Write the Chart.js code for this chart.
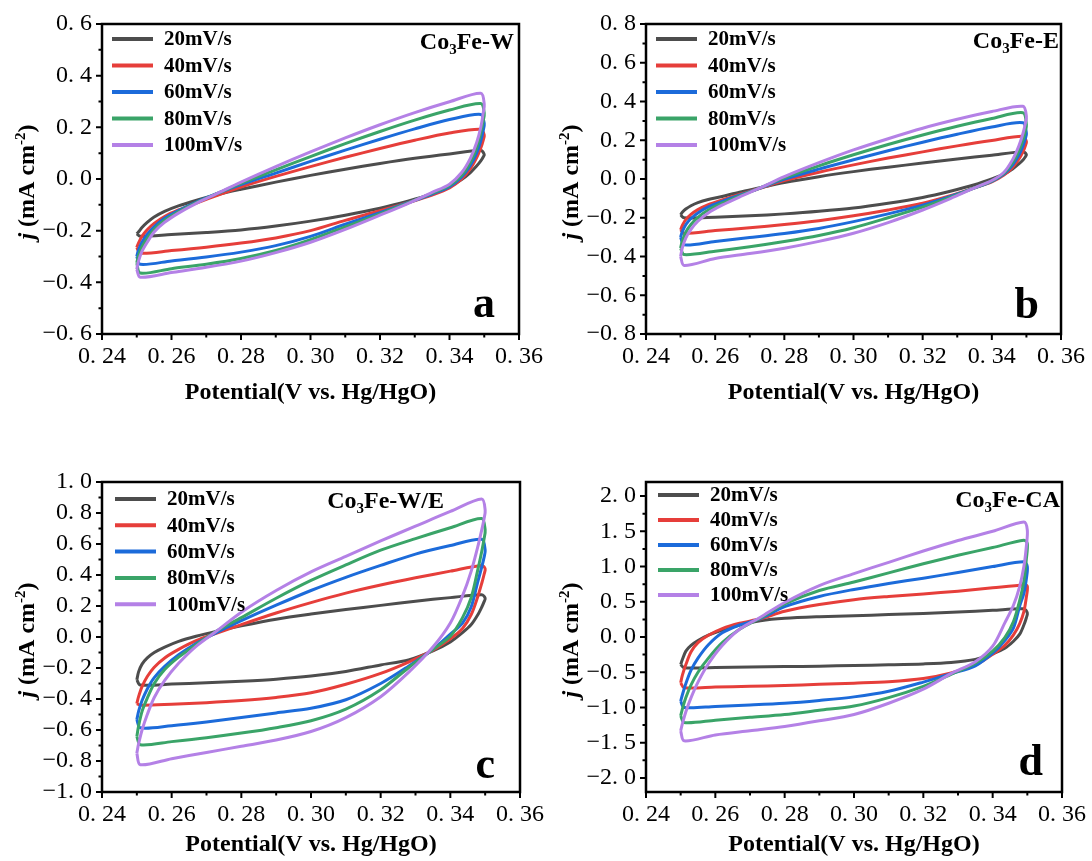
<!DOCTYPE html>
<html>
<head>
<meta charset="utf-8">
<script src="https://cdn.jsdelivr.net/npm/chart.js@4.4.0/dist/chart.umd.min.js"></script>
<style>
  body { margin: 0; background: #fff; width: 1092px; height: 861px; position: relative; overflow: hidden; }
  .panel { position: absolute; }
</style>
</head>
<body>
<div class="panel" style="left:0;top:0"><canvas id="chartA" width="546" height="430"></canvas></div>
<div class="panel" style="left:546px;top:0"><canvas id="chartB" width="546" height="430"></canvas></div>
<div class="panel" style="left:0;top:430px"><canvas id="chartC" width="546" height="431"></canvas></div>
<div class="panel" style="left:546px;top:430px"><canvas id="chartD" width="546" height="431"></canvas></div>
<script>
// scan rates (legend) and potentials of the forward / reverse sweeps (V vs. Hg/HgO)
const scanRates = ['20mV/s', '40mV/s', '60mV/s', '80mV/s', '100mV/s'];
const forwardPotential = [0.2500, 0.2505, 0.2515, 0.2530, 0.2550, 0.2580, 0.2620, 0.2670, 0.2730, 0.2800, 0.2900, 0.3000, 0.3100, 0.3200, 0.3300, 0.3400, 0.3490];
const reversePotential = [0.3500, 0.3497, 0.3490, 0.3478, 0.3460, 0.3435, 0.3400, 0.3350, 0.3280, 0.3200, 0.3100, 0.3000, 0.2900, 0.2800, 0.2700, 0.2600, 0.2510];

const xTicks = [0.24, 0.26, 0.28, 0.30, 0.32, 0.34, 0.36];
const wTicksY = [-0.6, -0.4, -0.2, 0, 0.2, 0.4, 0.6];
const eTicksY = [-0.8, -0.6, -0.4, -0.2, 0, 0.2, 0.4, 0.6, 0.8];
const weTicksY = [-1.0, -0.8, -0.6, -0.4, -0.2, 0, 0.2, 0.4, 0.6, 0.8, 1.0];
const caTicksY = [-2.0, -1.5, -1.0, -0.5, 0, 0.5, 1.0, 1.5, 2.0];

const sampleNames = ['Co3Fe-W', 'Co3Fe-E', 'Co3Fe-W/E', 'Co3Fe-CA'];
const panelLetters = ['a', 'b', 'c', 'd'];

// current density j (mA cm-2), one row per scan rate
const wForward = [
  [-0.212, -0.205, -0.188, -0.168, -0.147, -0.125, -0.104, -0.083, -0.061, -0.040, -0.012, 0.014, 0.038, 0.060, 0.080, 0.097, 0.110],
  [-0.265, -0.248, -0.222, -0.197, -0.172, -0.145, -0.120, -0.094, -0.064, -0.031, 0.010, 0.048, 0.084, 0.118, 0.150, 0.178, 0.192],
  [-0.300, -0.275, -0.245, -0.215, -0.185, -0.152, -0.122, -0.090, -0.057, -0.022, 0.023, 0.068, 0.112, 0.154, 0.194, 0.230, 0.250],
  [-0.325, -0.297, -0.262, -0.230, -0.195, -0.160, -0.127, -0.092, -0.057, -0.017, 0.035, 0.087, 0.137, 0.184, 0.228, 0.267, 0.292],
  [-0.350, -0.318, -0.280, -0.245, -0.205, -0.168, -0.132, -0.095, -0.057, -0.012, 0.048, 0.105, 0.159, 0.210, 0.257, 0.299, 0.332]
];
const wReverse = [
  [0.095, 0.085, 0.070, 0.050, 0.025, -0.002, -0.030, -0.058, -0.086, -0.113, -0.140, -0.163, -0.182, -0.197, -0.207, -0.215, -0.222],
  [0.170, 0.150, 0.120, 0.082, 0.040, 0.000, -0.035, -0.062, -0.092, -0.123, -0.160, -0.200, -0.228, -0.248, -0.264, -0.277, -0.287],
  [0.215, 0.188, 0.148, 0.100, 0.052, 0.008, -0.030, -0.058, -0.092, -0.130, -0.175, -0.222, -0.258, -0.283, -0.302, -0.317, -0.330],
  [0.255, 0.225, 0.178, 0.120, 0.065, 0.015, -0.025, -0.055, -0.093, -0.135, -0.185, -0.235, -0.277, -0.308, -0.330, -0.347, -0.364],
  [0.290, 0.255, 0.200, 0.140, 0.080, 0.025, -0.020, -0.052, -0.095, -0.140, -0.195, -0.245, -0.285, -0.318, -0.342, -0.362, -0.380]
];

const eForward = [
  [-0.185, -0.172, -0.155, -0.138, -0.122, -0.106, -0.090, -0.068, -0.045, -0.018, 0.012, 0.038, 0.061, 0.082, 0.103, 0.123, 0.140],
  [-0.262, -0.240, -0.210, -0.183, -0.158, -0.132, -0.108, -0.080, -0.048, -0.008, 0.035, 0.073, 0.108, 0.140, 0.171, 0.199, 0.220],
  [-0.300, -0.272, -0.236, -0.204, -0.175, -0.144, -0.116, -0.084, -0.047, -0.001, 0.051, 0.099, 0.146, 0.190, 0.231, 0.268, 0.290],
  [-0.357, -0.320, -0.275, -0.235, -0.198, -0.160, -0.125, -0.088, -0.046, 0.006, 0.068, 0.125, 0.178, 0.227, 0.272, 0.312, 0.342],
  [-0.400, -0.355, -0.305, -0.260, -0.218, -0.175, -0.135, -0.093, -0.046, 0.012, 0.084, 0.150, 0.208, 0.262, 0.308, 0.348, 0.375]
];
const eReverse = [
  [0.125, 0.115, 0.098, 0.078, 0.052, 0.025, 0.000, -0.030, -0.063, -0.095, -0.125, -0.150, -0.167, -0.180, -0.190, -0.197, -0.200],
  [0.193, 0.172, 0.140, 0.102, 0.060, 0.020, -0.015, -0.046, -0.086, -0.125, -0.160, -0.190, -0.215, -0.235, -0.252, -0.266, -0.280],
  [0.236, 0.210, 0.170, 0.122, 0.072, 0.025, -0.012, -0.046, -0.090, -0.135, -0.180, -0.220, -0.255, -0.281, -0.302, -0.322, -0.340],
  [0.280, 0.250, 0.202, 0.145, 0.085, 0.030, -0.010, -0.046, -0.095, -0.145, -0.200, -0.252, -0.292, -0.323, -0.350, -0.373, -0.390],
  [0.322, 0.288, 0.235, 0.170, 0.100, 0.035, -0.008, -0.046, -0.101, -0.160, -0.225, -0.280, -0.322, -0.357, -0.385, -0.410, -0.446]
];

const weForward = [
  [-0.277, -0.225, -0.175, -0.135, -0.100, -0.065, -0.028, 0.005, 0.038, 0.072, 0.115, 0.148, 0.177, 0.204, 0.231, 0.254, 0.272],
  [-0.430, -0.385, -0.320, -0.255, -0.195, -0.135, -0.080, -0.024, 0.025, 0.080, 0.155, 0.222, 0.283, 0.335, 0.382, 0.425, 0.462],
  [-0.534, -0.480, -0.410, -0.335, -0.262, -0.190, -0.115, -0.042, 0.030, 0.105, 0.205, 0.300, 0.385, 0.462, 0.535, 0.590, 0.630],
  [-0.642, -0.575, -0.480, -0.395, -0.300, -0.210, -0.130, -0.050, 0.040, 0.125, 0.250, 0.365, 0.465, 0.560, 0.635, 0.705, 0.764],
  [-0.750, -0.690, -0.600, -0.500, -0.390, -0.280, -0.170, -0.060, 0.040, 0.160, 0.300, 0.420, 0.520, 0.620, 0.715, 0.810, 0.890]
];
const weReverse = [
  [0.250, 0.228, 0.192, 0.140, 0.080, 0.028, -0.032, -0.090, -0.148, -0.180, -0.222, -0.252, -0.272, -0.285, -0.295, -0.304, -0.310],
  [0.440, 0.405, 0.345, 0.255, 0.145, 0.055, -0.012, -0.085, -0.162, -0.235, -0.305, -0.360, -0.390, -0.410, -0.424, -0.434, -0.440],
  [0.560, 0.515, 0.450, 0.350, 0.195, 0.090, 0.018, -0.080, -0.188, -0.300, -0.405, -0.460, -0.490, -0.520, -0.548, -0.572, -0.586],
  [0.690, 0.635, 0.550, 0.425, 0.255, 0.125, 0.005, -0.080, -0.198, -0.340, -0.465, -0.540, -0.585, -0.620, -0.650, -0.675, -0.695],
  [0.818, 0.765, 0.690, 0.575, 0.425, 0.265, 0.090, -0.065, -0.228, -0.385, -0.520, -0.610, -0.665, -0.705, -0.745, -0.785, -0.824]
];

const caForward = [
  [-0.390, -0.320, -0.200, -0.120, -0.050, 0.025, 0.100, 0.170, 0.230, 0.265, 0.288, 0.303, 0.318, 0.335, 0.355, 0.378, 0.400],
  [-0.650, -0.540, -0.390, -0.210, -0.080, 0.025, 0.120, 0.195, 0.258, 0.365, 0.460, 0.530, 0.575, 0.612, 0.650, 0.698, 0.738],
  [-0.910, -0.820, -0.660, -0.470, -0.300, -0.110, 0.060, 0.170, 0.260, 0.430, 0.575, 0.675, 0.760, 0.835, 0.915, 1.000, 1.067],
  [-1.120, -1.020, -0.860, -0.680, -0.500, -0.300, -0.080, 0.110, 0.270, 0.470, 0.660, 0.780, 0.910, 1.040, 1.160, 1.270, 1.374],
  [-1.333, -1.230, -1.060, -0.860, -0.640, -0.380, -0.120, 0.110, 0.280, 0.490, 0.730, 0.900, 1.060, 1.220, 1.370, 1.500, 1.632]
];
const caReverse = [
  [0.340, 0.270, 0.170, 0.040, -0.060, -0.160, -0.240, -0.318, -0.362, -0.382, -0.395, -0.405, -0.414, -0.420, -0.427, -0.432, -0.438],
  [0.720, 0.560, 0.360, 0.190, 0.030, -0.120, -0.245, -0.400, -0.510, -0.590, -0.635, -0.655, -0.672, -0.688, -0.700, -0.710, -0.720],
  [0.997, 0.820, 0.620, 0.440, 0.130, -0.050, -0.230, -0.410, -0.520, -0.640, -0.770, -0.850, -0.900, -0.940, -0.965, -0.985, -1.000],
  [1.327, 1.100, 0.790, 0.520, 0.220, -0.010, -0.200, -0.370, -0.530, -0.700, -0.860, -0.980, -1.040, -1.100, -1.140, -1.180, -1.214],
  [1.515, 1.280, 1.000, 0.720, 0.450, 0.200, -0.130, -0.350, -0.520, -0.740, -0.940, -1.100, -1.190, -1.270, -1.330, -1.390, -1.474]
];

const lineColors = ['#4d4d4d', '#e63e3a', '#1c6bda', '#3aa468', '#b481e6'];
const serif = '"Liberation Serif", "Times New Roman", serif';

// layout of each panel (pixels inside its own canvas)
const panels = [
  { id: 'chartA', fwd: wForward, rev: wReverse, yMin: -0.6, yMax: 0.6, yTicks: wTicksY,
    yAxisWidth: 102, padRight: 27, padTop: 24, xAxisHeight: 96, titlePad: 23,
    legend: { x: 10, y: 15, gap: 26.5 }, nameRight: 5, nameBase: 25, letterRight: 24, letterBase: 17 },
  { id: 'chartB', fwd: eForward, rev: eReverse, yMin: -0.8, yMax: 0.8, yTicks: eTicksY,
    yAxisWidth: 100, padRight: 31, padTop: 24, xAxisHeight: 96, titlePad: 23,
    legend: { x: 10, y: 15, gap: 26.5 }, nameRight: 2, nameBase: 24, letterRight: 22, letterBase: 16 },
  { id: 'chartC', fwd: weForward, rev: weReverse, yMin: -1.0, yMax: 1.0, yTicks: weTicksY,
    yAxisWidth: 102, padRight: 26, padTop: 52, xAxisHeight: 69, titlePad: 2,
    legend: { x: 13, y: 17, gap: 26.3 }, nameRight: 76, nameBase: 26, letterRight: 25, letterBase: 14 },
  { id: 'chartD', fwd: caForward, rev: caReverse, yMin: -2.2, yMax: 2.2, yTicks: caTicksY,
    yAxisWidth: 100, padRight: 30, padTop: 52, xAxisHeight: 69, titlePad: 2,
    legend: { x: 12, y: 13, gap: 25 }, nameRight: 2, nameBase: 25, letterRight: 19, letterBase: 17 }
];

function fmtTick(value, digits) {
  const s = Math.abs(value).toFixed(digits).replace('.', '. ');
  return (value < -1e-9 ? '\u2212' : '') + s;
}

function buildLoop(fwd, rev) {
  const pts = forwardPotential.map((v, i) => ({ x: v, y: fwd[i] }));
  reversePotential.forEach((v, i) => pts.push({ x: v, y: rev[i] }));
  pts.push({ x: forwardPotential[0], y: fwd[0] });
  return pts;
}

function midpoints(arr) {
  const out = [];
  for (let i = 0; i < arr.length - 1; i++) out.push((arr[i] + arr[i + 1]) / 2);
  return out;
}

function drawYTitle(ctx, cx, cy) {
  const parts = [
    { t: 'j', f: 'italic bold 24px ' + serif, dy: 0 },
    { t: ' (mA cm', f: 'bold 24px ' + serif, dy: 0 },
    { t: '-2', f: 'bold 15px ' + serif, dy: -9 },
    { t: ')', f: 'bold 24px ' + serif, dy: 0 }
  ];
  ctx.save();
  ctx.translate(cx, cy);
  ctx.rotate(-Math.PI / 2);
  let total = 0;
  parts.forEach(p => { ctx.font = p.f; p.w = ctx.measureText(p.t).width; total += p.w; });
  let x = -total / 2;
  ctx.fillStyle = '#000';
  ctx.textBaseline = 'alphabetic';
  parts.forEach(p => { ctx.font = p.f; ctx.fillText(p.t, x, 8 + p.dy); x += p.w; });
  ctx.restore();
}

function drawSampleName(ctx, name, right, base) {
  const parts = [
    { t: name.slice(0, 2), f: 'bold 24px ' + serif, dy: 0 },
    { t: name.slice(2, 3), f: 'bold 15px ' + serif, dy: 5 },
    { t: name.slice(3), f: 'bold 24px ' + serif, dy: 0 }
  ];
  let total = 0;
  parts.forEach(p => { ctx.font = p.f; p.w = ctx.measureText(p.t).width; total += p.w; });
  let x = right - total;
  ctx.fillStyle = '#000';
  ctx.textBaseline = 'alphabetic';
  parts.forEach(p => { ctx.font = p.f; ctx.fillText(p.t, x, base + p.dy); x += p.w; });
}

function makeChart(p, index) {
  const decor = {
    id: 'decor' + index,
    afterDraw(chart) {
      const { ctx, chartArea: ca, scales: { x, y } } = chart;
      ctx.save();
      // frame
      ctx.strokeStyle = '#000';
      ctx.lineWidth = 2.5;
      ctx.strokeRect(ca.left, ca.top, ca.right - ca.left, ca.bottom - ca.top);
      // outward ticks, major and minor
      ctx.lineWidth = 2;
      ctx.beginPath();
      xTicks.forEach(v => { const px = x.getPixelForValue(v); ctx.moveTo(px, ca.bottom); ctx.lineTo(px, ca.bottom + 6); });
      midpoints(xTicks).forEach(v => { const px = x.getPixelForValue(v); ctx.moveTo(px, ca.bottom); ctx.lineTo(px, ca.bottom + 3.5); });
      p.yTicks.forEach(v => { const py = y.getPixelForValue(v); ctx.moveTo(ca.left, py); ctx.lineTo(ca.left - 6, py); });
      midpoints(p.yTicks).forEach(v => { const py = y.getPixelForValue(v); ctx.moveTo(ca.left, py); ctx.lineTo(ca.left - 3.5, py); });
      ctx.stroke();

      drawYTitle(ctx, ca.left - 76, (ca.top + ca.bottom) / 2 + 3);

      // legend
      const lg = p.legend;
      scanRates.forEach((label, i) => {
        const ly = ca.top + lg.y + i * lg.gap;
        ctx.strokeStyle = lineColors[i];
        ctx.lineWidth = 4;
        ctx.beginPath();
        ctx.moveTo(ca.left + lg.x, ly);
        ctx.lineTo(ca.left + lg.x + 41, ly);
        ctx.stroke();
        ctx.fillStyle = '#000';
        ctx.font = 'bold 21px ' + serif;
        ctx.textBaseline = 'middle';
        ctx.textAlign = 'left';
        ctx.fillText(label, ca.left + lg.x + 52, ly + 1);
      });

      drawSampleName(ctx, sampleNames[index], ca.right - p.nameRight, ca.top + p.nameBase);

      ctx.font = 'bold 44px ' + serif;
      ctx.textAlign = 'right';
      ctx.textBaseline = 'alphabetic';
      ctx.fillStyle = '#000';
      ctx.fillText(panelLetters[index], ca.right - p.letterRight, ca.bottom - p.letterBase);
      ctx.restore();
    }
  };

  return new Chart(document.getElementById(p.id), {
    type: 'line',
    data: {
      datasets: scanRates.map((label, i) => ({
        label: label,
        data: buildLoop(p.fwd[i], p.rev[i]),
        borderColor: lineColors[i],
        borderWidth: 3,
        pointRadius: 0,
        tension: 0.3,
        fill: false,
        order: scanRates.length - i
      }))
    },
    options: {
      responsive: false,
      animation: false,
      devicePixelRatio: 1,
      layout: { padding: { left: 0, right: p.padRight, top: p.padTop, bottom: 0 } },
      plugins: { legend: { display: false }, tooltip: { enabled: false } },
      scales: {
        x: {
          type: 'linear', min: 0.24, max: 0.36,
          afterBuildTicks: s => { s.ticks = xTicks.map(v => ({ value: v })); },
          afterFit: s => { s.height = p.xAxisHeight; s.paddingLeft = 0; s.paddingRight = 0; },
          grid: { display: false, drawTicks: false, tickLength: 0 },
          border: { display: false },
          ticks: { autoSkip: false, maxRotation: 0, padding: 8, color: '#000',
                   font: { family: serif, size: 24 }, callback: v => fmtTick(v, 2) },
          title: { display: true, text: 'Potential(V vs. Hg/HgO)', color: '#000',
                   font: { family: serif, size: 24, weight: 'bold' },
                   padding: { top: 0, bottom: p.titlePad } }
        },
        y: {
          type: 'linear', min: p.yMin, max: p.yMax,
          afterBuildTicks: s => { s.ticks = p.yTicks.map(v => ({ value: v })); },
          afterFit: s => { s.width = p.yAxisWidth; s.paddingTop = 0; s.paddingBottom = 0; },
          grid: { display: false, drawTicks: false, tickLength: 0 },
          border: { display: false },
          ticks: { autoSkip: false, padding: 10, color: '#000',
                   font: { family: serif, size: 24 }, callback: v => fmtTick(v, 1) }
        }
      }
    },
    plugins: [decor]
  });
}

panels.forEach((p, i) => makeChart(p, i));
</script>
</body>
</html>
